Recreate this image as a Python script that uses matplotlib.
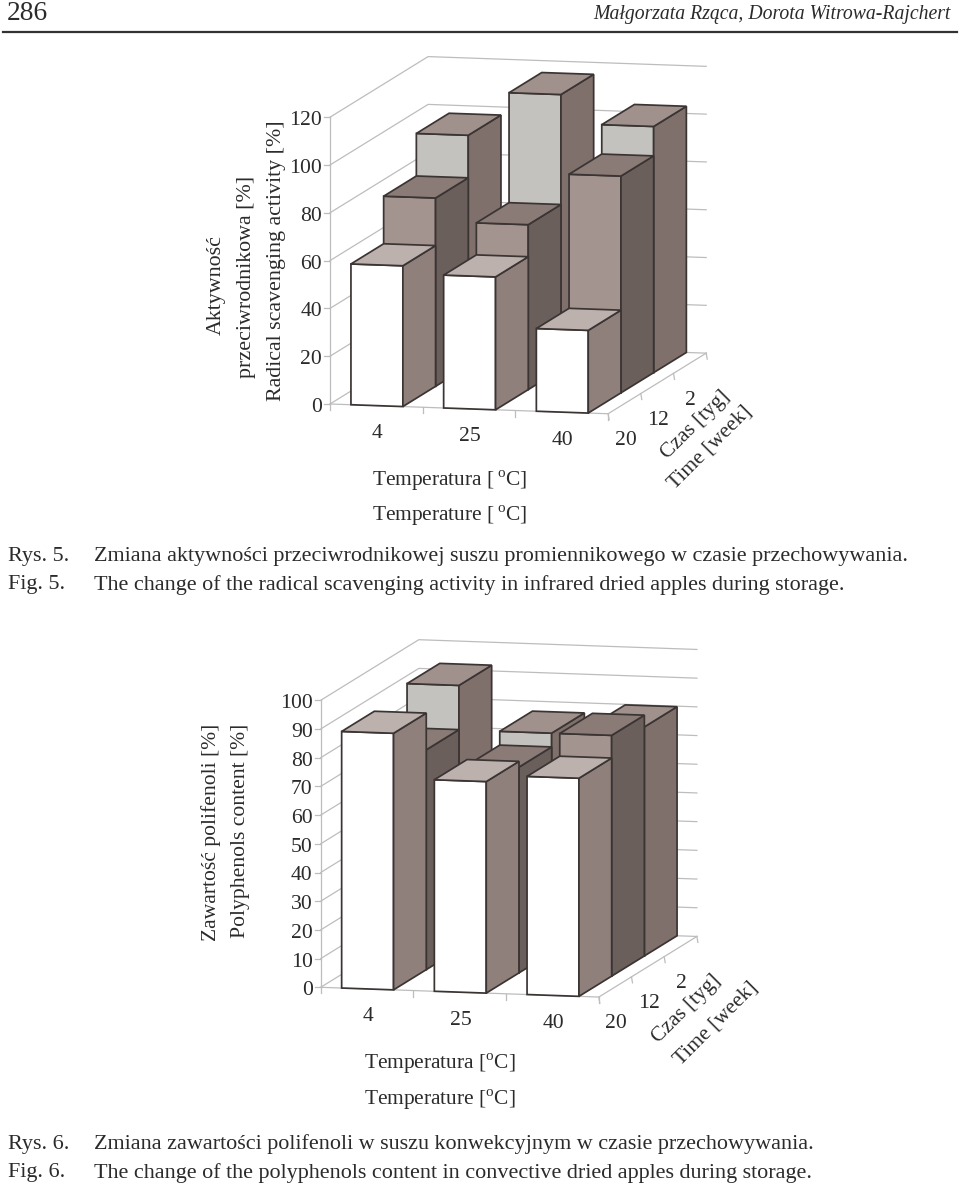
import matplotlib

matplotlib.use("Agg")
import matplotlib.pyplot as plt
from matplotlib.patches import Polygon

plt.rcParams["font.family"] = ["Liberation Serif", "DejaVu Serif"]
plt.rcParams["mathtext.fontset"] = "custom"
plt.rcParams["mathtext.rm"] = "Liberation Serif"

temperatures = ["4", "25", "40"]
weeks = ["20", "12", "2"]  # front row first

# values per storage time (front to back), columns follow temperatures
activity_20 = [58.9, 55.6, 34.6]
activity_12 = [78.8, 69.0, 90.7]
activity_2 = [96.6, 115.0, 103.0]
activity_ticks = [0, 20, 40, 60, 80, 100, 120]

polyphenols_20 = [89.4, 73.7, 76.0]
polyphenols_12 = [76.6, 71.7, 83.9]
polyphenols_2 = [92.0, 76.5, 79.8]
polyphenols_ticks = [0, 10, 20, 30, 40, 50, 60, 70, 80, 90, 100]

# (front, side, top) colours of each row
ROW_COLORS = [
    ("#ffffff", "#8f807c", "#bdb1ae"),
    ("#a4948f", "#6b5f5b", "#8a7b77"),
    ("#c4c2be", "#7f706c", "#a0918d"),
]
EDGE = "#3a3433"
GRID = "#bdbdbd"
TEXT = "#2b2b2b"
BAR_LEFT = 0.226
BAR_WIDTH = 0.56


def make_projection(x0, y0, px_per_unit):
    """Oblique projection of (temperature slot, time slot, value) to page pixels."""

    def project(col, row, value):
        x = x0 + col * 92.7 + row * 32.7
        y = y0 + col * 3.25 - row * 20.2 - value * px_per_unit
        return x, y

    return project


def draw_walls(ax, project, ticks):
    top = ticks[-1]
    for v in ticks:
        pts = [project(0, 0, v), project(0, 3, v), project(3, 3, v)]
        ax.plot(*zip(*pts), color=GRID, lw=0.9, zorder=1)
        left = project(0, 0, v)
        ax.plot([left[0] - 6, left[0]], [left[1], left[1]], color=GRID, lw=0.9, zorder=1)
        ax.text(left[0] - 8, left[1] + 1, str(v), ha="right", va="center_baseline",
                fontsize=15.6, color=TEXT)
    ax.plot(*zip(project(0, 0, 0), project(0, 0, top)), color=GRID, lw=0.9, zorder=1)
    floor = [project(0, 0, 0), project(3, 0, 0), project(3, 3, 0)]
    ax.plot(*zip(*floor), color=GRID, lw=0.9, zorder=1)
    # short ticks under the front and right floor edges
    for i in range(4):
        x, y = project(i, 0, 0)
        ax.plot([x, x], [y, y + 6], color=GRID, lw=0.9, zorder=1)
        x, y = project(3, i, 0)
        ax.plot([x, x + 1], [y, y + 6], color=GRID, lw=0.9, zorder=1)


def draw_bar(ax, project, col, row, value):
    front, side, top = ROW_COLORS[row]
    a = col + BAR_LEFT
    b = a + BAR_WIDTH
    faces = [
        ([project(a, row, 0), project(b, row, 0), project(b, row, value), project(a, row, value)], front),
        ([project(b, row, 0), project(b, row + 1, 0), project(b, row + 1, value), project(b, row, value)], side),
        ([project(a, row, value), project(b, row, value), project(b, row + 1, value), project(a, row + 1, value)], top),
    ]
    for pts, color in faces:
        ax.add_patch(Polygon(pts, closed=True, facecolor=color, edgecolor=EDGE,
                             lw=1.25, joinstyle="miter", zorder=2))


def draw_chart(ax, project, rows, ticks):
    draw_walls(ax, project, ticks)
    # back row first so nearer bars cover it
    for row in [2, 1, 0]:
        for col, value in enumerate(rows[row]):
            draw_bar(ax, project, col, row, value)
    for col, label in enumerate(temperatures):
        x, y = project(col + 0.5, 0, 0)
        ax.text(x + 1, y + 28, label, ha="center", va="center", fontsize=15.6, color=TEXT)
    for row, label in enumerate(weeks):
        x, y = project(3, row + 0.5, 0)
        ax.text(x + 1, y + 37, label, ha="center", va="center", fontsize=15.6, color=TEXT)


def page_text(ax, x, y, s, **kw):
    kw.setdefault("fontsize", 15.9)
    kw.setdefault("color", TEXT)
    kw.setdefault("va", "center")
    ax.text(x, y, s, **kw)


def main():
    fig = plt.figure(figsize=(9.6, 11.86), dpi=100)
    ax = fig.add_axes([0, 0, 1, 1])
    ax.set_xlim(0, 960)
    ax.set_ylim(1186, 0)
    ax.axis("off")

    # page header
    page_text(ax, 7, 13, "286", fontsize=19.8)
    page_text(ax, 951, 15, "Małgorzata Rząca, Dorota Witrowa-Rajchert", ha="right",
              style="italic", fontsize=14.2)
    ax.plot([3, 957], [31.5, 31.5], color="#333333", lw=1.6)

    # first chart
    draw_chart(ax, make_projection(330, 404, 2.39),
               [activity_20, activity_12, activity_2], activity_ticks)
    page_text(ax, 216, 285, "Aktywność", rotation=90, ha="center", fontsize=15.8)
    page_text(ax, 246, 277, "przeciwrodnikowa [%]", rotation=90, ha="center", fontsize=15.8)
    page_text(ax, 276, 261, "Radical scavenging activity [%]", rotation=90, ha="center", fontsize=15.8)
    page_text(ax, 450, 481, r"Temperatura [$\,^{\mathrm{o}}$C]", ha="center", fontsize=15.4)
    page_text(ax, 450, 516, r"Temperature [$\,^{\mathrm{o}}$C]", ha="center", fontsize=15.4)
    page_text(ax, 696, 425, "Czas [tyg]", rotation=45, ha="center", rotation_mode="anchor", fontsize=15.4)
    page_text(ax, 710, 448, "Time [week]", rotation=45, ha="center", rotation_mode="anchor", fontsize=15.4)

    page_text(ax, 8, 556.5, "Rys. 5.")
    page_text(ax, 8, 585, "Fig. 5.")
    page_text(ax, 94, 556.5, "Zmiana aktywności przeciwrodnikowej suszu promiennikowego w czasie przechowywania.")
    page_text(ax, 94, 585, "The change of the radical scavenging activity in infrared dried apples during storage.")

    # second chart
    draw_chart(ax, make_projection(320.7, 987.3, 2.87),
               [polyphenols_20, polyphenols_12, polyphenols_2], polyphenols_ticks)
    page_text(ax, 211, 832, "Zawartość polifenoli [%]", rotation=90, ha="center", fontsize=15.6)
    page_text(ax, 241, 831, "Polyphenols content [%]", rotation=90, ha="center", fontsize=15.6)
    page_text(ax, 440, 1064, r"Temperatura [$^{\mathrm{o}}$C]", ha="center", fontsize=15.4)
    page_text(ax, 440, 1100, r"Temperature [$^{\mathrm{o}}$C]", ha="center", fontsize=15.4)
    page_text(ax, 687, 1009, "Czas [tyg]", rotation=45, ha="center", rotation_mode="anchor", fontsize=15.4)
    page_text(ax, 716, 1024, "Time [week]", rotation=45, ha="center", rotation_mode="anchor", fontsize=15.4)

    page_text(ax, 8, 1144, "Rys. 6.")
    page_text(ax, 8, 1173, "Fig. 6.")
    page_text(ax, 94, 1144, "Zmiana zawartości polifenoli w suszu konwekcyjnym w czasie przechowywania.")
    page_text(ax, 94, 1173, "The change of the polyphenols content in convective dried apples during storage.")

    fig.savefig("out.png", dpi=100, facecolor="white")


if __name__ == "__main__":
    main()
